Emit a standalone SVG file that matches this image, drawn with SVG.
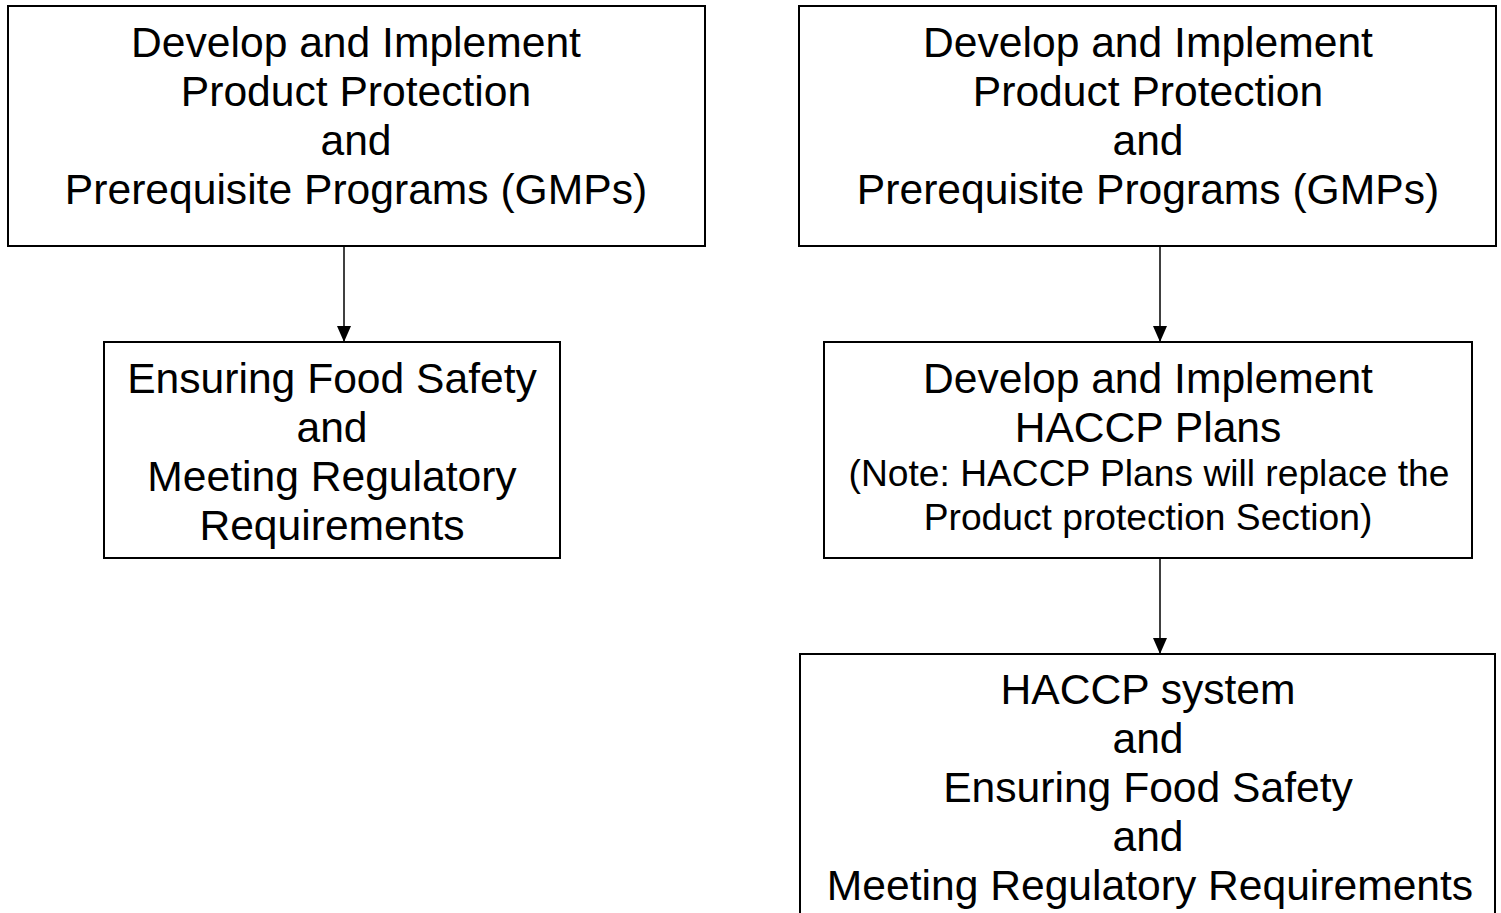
<svg xmlns="http://www.w3.org/2000/svg" width="1501" height="913" viewBox="0 0 1501 913">
<defs>
<style>
.box{fill:#fff;stroke:#000;stroke-width:2}
.t{font-family:"Liberation Sans",Arial,sans-serif;font-size:42.6px;fill:#000;text-anchor:middle}
.s{font-size:37.2px}
.c{stroke:#000;stroke-width:1.5;fill:none}
</style>
<marker id="ah" markerWidth="16" markerHeight="16" refX="16" refY="8" orient="auto" markerUnits="userSpaceOnUse">
<path d="M0,1 L16,8 L0,15 Z" fill="#000"/>
</marker>
</defs>
<rect width="1501" height="913" fill="#fff"/>
<g id="connectors">
<line class="c" x1="344" y1="246" x2="344" y2="342" marker-end="url(#ah)"/>
<line class="c" x1="1160" y1="246" x2="1160" y2="342" marker-end="url(#ah)"/>
<line class="c" x1="1160" y1="558" x2="1160" y2="654" marker-end="url(#ah)"/>
</g>
<g id="left-top">
<rect class="box" x="8" y="6" width="697" height="240"/>
<text class="t" x="356" y="57">Develop and Implement</text>
<text class="t" x="356" y="106">Product Protection</text>
<text class="t" x="356" y="155">and</text>
<text class="t" x="356" y="204">Prerequisite Programs (GMPs)</text>
</g>
<g id="left-bottom">
<rect class="box" x="104" y="342" width="456" height="216"/>
<text class="t" x="332" y="393">Ensuring Food Safety</text>
<text class="t" x="332" y="442">and</text>
<text class="t" x="332" y="491">Meeting Regulatory</text>
<text class="t" x="332" y="540">Requirements</text>
</g>
<g id="right-top">
<rect class="box" x="799" y="6" width="697" height="240"/>
<text class="t" x="1148" y="57">Develop and Implement</text>
<text class="t" x="1148" y="106">Product Protection</text>
<text class="t" x="1148" y="155">and</text>
<text class="t" x="1148" y="204">Prerequisite Programs (GMPs)</text>
</g>
<g id="right-middle">
<rect class="box" x="824" y="342" width="648" height="216"/>
<text class="t" x="1148" y="393">Develop and Implement</text>
<text class="t" x="1148" y="442">HACCP Plans</text>
<text class="t s" x="1149" y="486">(Note: HACCP Plans will replace the</text>
<text class="t s" x="1148" y="530">Product protection Section)</text>
</g>
<g id="right-bottom">
<rect class="box" x="800" y="654" width="695" height="280"/>
<text class="t" x="1148" y="704">HACCP system</text>
<text class="t" x="1148" y="753">and</text>
<text class="t" x="1148" y="802">Ensuring Food Safety</text>
<text class="t" x="1148" y="851">and</text>
<text class="t" x="1150" y="900">Meeting Regulatory Requirements</text>
</g>
</svg>
